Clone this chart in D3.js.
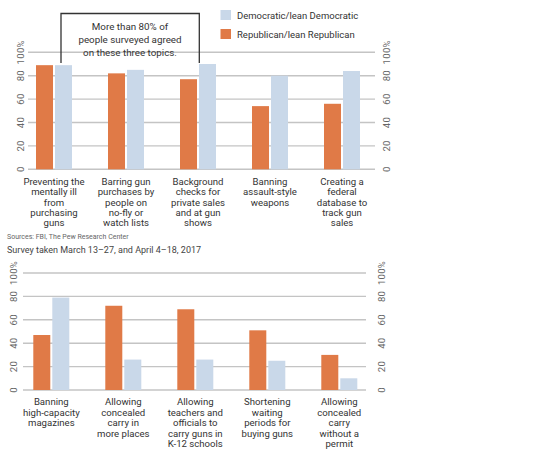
<!DOCTYPE html>
<html><head><meta charset="utf-8">
<script src="https://cdn.jsdelivr.net/npm/d3@7"></script>
<style>body{margin:0;background:#fff;}svg{display:block;font-family:Roboto, "Noto Sans", sans-serif;}</style>
</head><body><svg id="c" width="550" height="458"></svg>
<script>
const seriesKeys = ["rep", "dem"];
const seriesNames = ["Republican/lean Republican", "Democratic/lean Democratic"];
const colors = {rep: "#E07A47", dem: "#C9D8E9"};
const yTicks = [0, 20, 40, 60, 80, 100];

const topCategories = [
  ["Preventing the", "mentally ill", "from", "purchasing", "guns"],
  ["Barring gun", "purchases by", "people on", "no-fly or", "watch lists"],
  ["Background", "checks for", "private sales", "and at gun", "shows"],
  ["Banning", "assault-style", "weapons"],
  ["Creating a", "federal", "database to", "track gun", "sales"]
];
const topRep = [89, 82, 77, 54, 56];
const topDem = [89, 85, 90, 80, 84];

const botCategories = [
  ["Banning", "high-capacity", "magazines"],
  ["Allowing", "concealed", "carry in", "more places"],
  ["Allowing", "teachers and", "officials to", "carry guns in", "K-12 schools"],
  ["Shortening", "waiting", "periods for", "buying guns"],
  ["Allowing", "concealed", "carry", "without a", "permit"]
];
const botRep = [47, 72, 69, 51, 30];
const botDem = [79, 26, 26, 25, 10];

const svg = d3.select("#c");

function drawChart(cfg) {
  const g = svg.append("g");
  const cats = cfg.cats.map((c, i) => i);
  const x = d3.scaleBand().domain(cats).range(cfg.xRange).paddingInner(0.5).paddingOuter(0.25);
  const bw = x.bandwidth();
  const x1 = d3.scaleBand().domain(seriesKeys).range([0, bw]).paddingInner(0.105).paddingOuter(0);
  const y = d3.scaleLinear().domain([0, 100]).range([cfg.y0, cfg.y0 - 117]);

  g.append("g").selectAll("line").data(yTicks).join("line")
    .attr("x1", cfg.gridX[0]).attr("x2", cfg.gridX[1])
    .attr("y1", d => y(d)).attr("y2", d => y(d))
    .attr("stroke", "#c4c4c4").attr("stroke-width", 1.4);

  [cfg.labelXL, cfg.labelXR].forEach(lx => {
    g.append("g").selectAll("text").data(yTicks).join("text")
      .attr("transform", d => `translate(${lx},${y(d)}) rotate(-90)`)
      .attr("text-anchor", "middle").attr("dominant-baseline", "central")
      .attr("font-size", 9.5).attr("fill", "#666").attr("letter-spacing", 0.3)
      .text(d => d === 100 ? "100%" : d);
  });

  const data = cfg.cats.map((c, i) => ({i, rep: cfg.rep[i], dem: cfg.dem[i]}));
  const grp = g.append("g").selectAll("g").data(data).join("g")
    .attr("transform", d => `translate(${x(d.i)},0)`);
  grp.selectAll("rect").data(d => seriesKeys.map(k => ({k, v: d[k]}))).join("rect")
    .attr("x", d => x1(d.k)).attr("width", x1.bandwidth())
    .attr("y", d => y(d.v)).attr("height", d => y(0) - y(d.v))
    .attr("fill", d => colors[d.k]);

  grp.append("text")
    .attr("x", bw / 2).attr("y", cfg.y0 + 15.3)
    .attr("text-anchor", "middle").attr("font-size", 9.6).attr("fill", "#333")
    .selectAll("tspan").data(d => cfg.cats[d.i]).join("tspan")
    .attr("x", bw / 2).attr("dy", (d, i) => i === 0 ? 0 : 10.45).text(d => d);
}

drawChart({cats: topCategories, rep: topRep, dem: topDem, xRange: [18, 378], y0: 169.3,
  gridX: [28, 375], labelXL: 20, labelXR: 386});
drawChart({cats: botCategories, rep: botRep, dem: botDem, xRange: [15.3, 375.3], y0: 390,
  gridX: [23, 366], labelXL: 13, labelXR: 381});

// annotation
svg.append("path").attr("d", "M61,63V13.5H199.3V63").attr("fill", "none")
  .attr("stroke", "#333").attr("stroke-width", 1.3);
svg.append("text").attr("x", 130).attr("y", 29.5).attr("text-anchor", "middle")
  .attr("font-size", 9.8).attr("fill", "#333")
  .selectAll("tspan").data(["More than 80% of", "people surveyed agreed", "on these three topics."]).join("tspan")
  .attr("x", 130).attr("dy", (d, i) => i === 0 ? 0 : 13.3).text(d => d);

// legend
const legend = svg.append("g");
[["dem", 10], ["rep", 29]].forEach(([k, ly]) => {
  legend.append("rect").attr("x", 220.5).attr("y", ly).attr("width", 10.5).attr("height", 10).attr("fill", colors[k]);
  legend.append("text").attr("x", 237).attr("y", ly + 5).attr("dominant-baseline", "central")
    .attr("font-size", 9.5).attr("fill", "#333").text(seriesNames[seriesKeys.indexOf(k)]);
});

// notes
svg.append("text").attr("x", 7).attr("y", 239).attr("font-size", 7).attr("fill", "#666")
  .text("Sources: FBI, The Pew Research Center");
svg.append("text").attr("x", 7).attr("y", 253).attr("font-size", 9).attr("fill", "#444")
  .text("Survey taken March 13\u201327, and April 4\u201318, 2017");
</script></body></html>
